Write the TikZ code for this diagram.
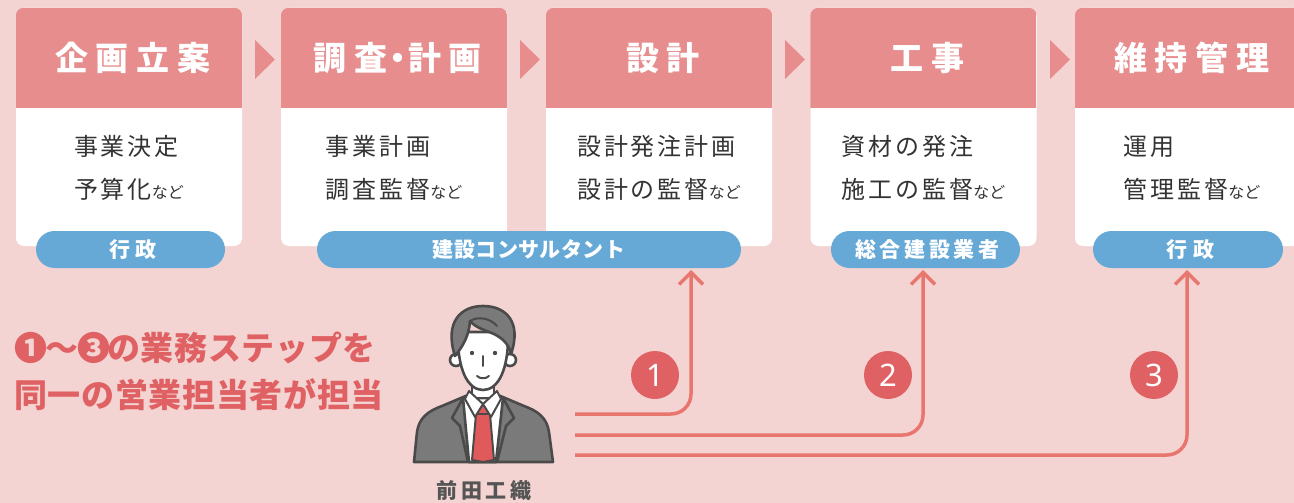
\documentclass[tikz,border=0pt]{standalone}
\usepackage{fontspec}
\setmainfont{Noto Sans CJK JP}
\newfontfamily\jp{Noto Sans CJK JP}
\newfontfamily\digitfont{Noto Sans}
\usetikzlibrary{arrows.meta}

\definecolor{paper}{HTML}{F4D4D2}
\definecolor{headpink}{HTML}{E78D8E}
\definecolor{pillblue}{HTML}{67A9D6}
\definecolor{flowred}{HTML}{E8766F}
\definecolor{badgered}{HTML}{E06163}
\definecolor{ink}{HTML}{333333}
\definecolor{namegray}{HTML}{555555}
\definecolor{suit}{HTML}{7A7A7A}
\definecolor{outl}{HTML}{4A4A4A}
\definecolor{tiered}{HTML}{E05A5C}

\tikzset{
  stagebox/.style={rectangle, rounded corners=8pt, fill=white, minimum width=226pt,
    minimum height=238pt, inner sep=0pt},
  headtext/.style={text=white, inner sep=0pt,
    font={\jp\bfseries\fontsize{33}{36}\selectfont\addfontfeature{LetterSpace=23}}},
  bodytext/.style={text=ink, inner sep=0pt, align=left,
    font={\jp\fontsize{24}{43}\selectfont\addfontfeature{LetterSpace=12}}},
  pill/.style={rectangle, rounded corners=18.5pt, fill=pillblue, minimum height=37pt,
    inner sep=0pt, text=white, font={\jp\bfseries\fontsize{21}{24}\selectfont}},
  badge/.style={circle, fill=badgered, minimum size=48pt, inner sep=0pt, text=white,
    font={\digitfont\fontsize{31}{31}\selectfont}},
  flow/.style={draw=flowred, line width=3.5pt, rounded corners=20pt,
    -{Straight Barb[length=12pt, width=24pt, line width=3.5pt]}},
  leadtext/.style={anchor=west, inner sep=0pt, text=badgered,
    font={\jp\bfseries\fontsize{33}{36}\selectfont\addfontfeature{LetterSpace=2}}},
  chevron/.style={fill=headpink},
}
\newcommand{\nado}{{\fontsize{16}{16}\selectfont\addfontfeature{LetterSpace=0}など}}

\begin{document}
\begin{tikzpicture}[x=1pt, y=-1pt]
  % paper background
  \fill[paper] (0,0) rectangle (1294,503);
  \useasboundingbox (0,0) rectangle (1294,503);
  \clip (0,0) rectangle (1294,503);

  % stage cards
  \node[stagebox] (b1) at (129,127) {};
  \node[stagebox] (b2) at (394,127) {};
  \node[stagebox] (b3) at (659,127) {};
  \node[stagebox] (b4) at (923.5,127) {};
  \node[stagebox] (b5) at (1188,127) {};
  \foreach \b in {b1,b2,b3,b4,b5}{
    \begin{scope}
      \clip[rounded corners=8pt] (\b.north west) rectangle (\b.south east);
      \fill[headpink] (\b.north west) rectangle ([yshift=-100pt]\b.north east);
    \end{scope}
  }

  % chevrons between cards
  \foreach \xl in {255,520,785,1050}{
    \fill[chevron] (\xl,40) -- (\xl+20,59.5) -- (\xl,79) -- cycle;
  }

  % card titles
  \node[headtext, xshift=3.8pt] (h1) at (129,58) {企画立案};
  \node[headtext, xshift=3.8pt] (h2) at (394,58) {調査\kern-6pt・\kern-6pt計画};
  \node[headtext, xshift=3.8pt] (h3) at (659,58) {設計};
  \node[headtext, xshift=3.8pt] (h4) at (923.5,58) {工事};
  \node[headtext, xshift=3.8pt] (h5) at (1188,58) {維持管理};

  % card contents
  \node[bodytext] (t1) at (129,168) {事業決定\\予算化\nado};
  \node[bodytext] (t2) at (394,168) {事業計画\\調査監督\nado};
  \node[bodytext] (t3) at (659,168) {設計発注計画\\設計の監督\nado};
  \node[bodytext] (t4) at (923.5,168) {資材の発注\\施工の監督\nado};
  \node[bodytext] (t5) at (1192,168) {運用\\管理監督\nado};

  % responsible parties
  \node[pill, minimum width=189pt] (p1) at (130.5,249.5)
    {\addfontfeature{LetterSpace=25}\hspace*{5pt}行政};
  \node[pill, minimum width=424pt] (p2) at (529,249.5)
    {\addfontfeature{LetterSpace=2}建設コンサルタント};
  \node[pill, minimum width=189pt] (p3) at (925.5,249.5)
    {\addfontfeature{LetterSpace=17}\hspace*{3.5pt}総合建設業者};
  \node[pill, minimum width=190pt] (p4) at (1188,249.5)
    {\addfontfeature{LetterSpace=25}\hspace*{5pt}行政};

  % lead text
  \node[leadtext] (lead1) at (14,348) {❶\kern-1.5pt〜\kern-1.5pt❸\kern-3pt の業務ステップを};
  \node[leadtext] (lead2) at (14,395) {同一の営業担当者が担当};

  % sales representative
  \begin{scope}[line width=2.6pt, draw=outl, line join=round, line cap=round]
    % jacket
    \filldraw[fill=suit] (414,462) -- (417,432) .. controls (419,418) and (428,411) .. (442,406)
      -- (468,395) -- (498,395) -- (524,406) .. controls (538,411) and (547,418) .. (549,432)
      -- (553,462) -- cycle;
    % shirt
    \filldraw[fill=white] (463,398) -- (503,398) -- (496,462) -- (469,462) -- cycle;
    % lapels
    \draw (463,398) -- (452,418) -- (460,426) -- (468,462);
    \draw (503,398) -- (514,418) -- (506,426) -- (497,462);
    % neck
    \filldraw[fill=white] (472,378) -- (472,398) -- (494,398) -- (494,378);
    % tie
    \filldraw[fill=tiered, line width=2pt] (478,404) -- (488,404) -- (490,414) -- (494,460)
      -- (483,462) -- (472,460) -- (476,414) -- cycle;
    \draw[line width=2pt] (476,414) -- (490,414);
    % collar
    \filldraw[fill=white, line width=2pt] (469,391) -- (483,404) -- (475,417) -- (465,399) -- cycle;
    \filldraw[fill=white, line width=2pt] (497,391) -- (483,404) -- (491,417) -- (501,399) -- cycle;
    % ears
    \filldraw[fill=white] (456,360) circle (6pt);
    \filldraw[fill=white] (510,360) circle (6pt);
    % face
    \filldraw[fill=white] (458,332) .. controls (457,370) and (468,390) .. (483,390)
      .. controls (498,390) and (509,370) .. (508,332) -- cycle;
    % hair
    \filldraw[fill=suit] (455,356) .. controls (444,322) and (461,306) .. (483,306)
      .. controls (506,306) and (522,322) .. (511,354)
      .. controls (509,344) and (502,338) .. (494,334)
      .. controls (485,330) and (476,328) .. (470,321)
      .. controls (469,336) and (463,346) .. (455,356) -- cycle;
    \draw[line width=2pt] (470,321) .. controls (478,316) and (490,318) .. (497,326);
    % features
    \fill[outl] (472,353) circle (2.2pt);
    \fill[outl] (495,353) circle (2.2pt);
    \draw[line width=2pt] (483,356) -- (483,366);
    \draw[line width=2pt] (477,376) .. controls (480,379) and (486,379) .. (489,376);
  \end{scope}
  \node[text=namegray, inner sep=0pt,
    font={\jp\bfseries\fontsize{21}{24}\selectfont\addfontfeature{LetterSpace=18}}]
    (rep) at (484,491) {前田工織};

  % step badges
  \node[badge] (n1) at (655,375) {1};
  \node[badge] (n2) at (888,375) {2};
  \node[badge] (n3) at (1154,375) {3};

  % flows from the representative to each party
  \coordinate (s1) at (575,414);
  \coordinate (s2) at (575,435);
  \coordinate (s3) at (575,455);
  \coordinate (e1) at (691,270);
  \coordinate (e2) at (923,270);
  \coordinate (e3) at (1187,270);
  \draw[flow] (s1) -| (e1);
  \draw[flow] (s2) -| (e2);
  \draw[flow] (s3) -| (e3);
\end{tikzpicture}
\end{document}
